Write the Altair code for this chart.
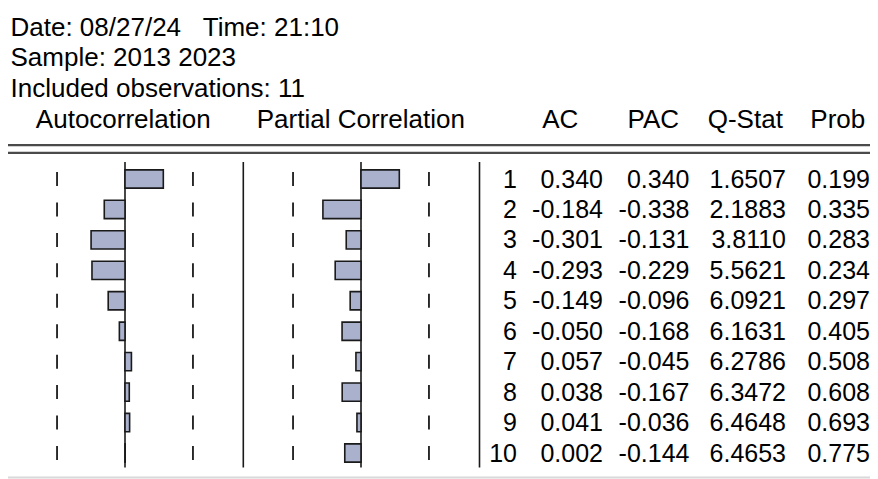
import altair as alt
import pandas as pd
import math

lags = [1, 2, 3, 4, 5, 6, 7, 8, 9, 10]
ac = [0.340, -0.184, -0.301, -0.293, -0.149, -0.050, 0.057, 0.038, 0.041, 0.002]
pac = [0.340, -0.338, -0.131, -0.229, -0.096, -0.168, -0.045, -0.167, -0.036, -0.144]
qstat = [1.6507, 2.1883, 3.8110, 5.5621, 6.0921, 6.1631, 6.2786, 6.3472, 6.4648, 6.4653]
prob = [0.199, 0.335, 0.283, 0.234, 0.297, 0.405, 0.508, 0.608, 0.693, 0.775]
n_obs = 11
header_lines = ["Date: 08/27/24\u00a0\u00a0\u00a0Time: 21:10", "Sample: 2013 2023", "Included observations: 11"]
col_headers = ["Autocorrelation", "Partial Correlation", "AC", "PAC", "Q-Stat", "Prob"]

FONT = "Liberation Sans"
FS = 25
FSH = 26
band = 2 / math.sqrt(n_obs)

df = pd.DataFrame({
    "lag": lags, "ac": ac, "pac": pac, "q": qstat, "prob": prob,
})
df["lo"] = df["lag"] - 0.3
df["hi"] = df["lag"] + 0.3
df["dlo"] = df["lag"] - 0.23
df["dhi"] = df["lag"] + 0.23
df["lag_s"] = df["lag"].astype(str)
df["ac_s"] = df["ac"].map(lambda v: f"{v:.3f}")
df["pac_s"] = df["pac"].map(lambda v: f"{v:.3f}")
df["q_s"] = df["q"].map(lambda v: f"{v:.4f}")
df["prob_s"] = df["prob"].map(lambda v: f"{v:.3f}")

base = alt.Chart(df)
yscale = alt.Scale(domain=[1, 10], range=[171, 445])
PX = 112.7
acf_scale = alt.Scale(domain=[-1, 1], range=[117 - PX, 117 + PX])
pacf_scale = alt.Scale(domain=[-1, 1], range=[353 - PX, 353 + PX])

BAR_FILL = "#a9b1cd"
INK = "#1a1a1a"


def panel(field, scale):
    bars = base.mark_rect(fill=BAR_FILL, stroke=INK, strokeWidth=1.6).encode(
        x=alt.X(f"{field}:Q", scale=scale, axis=None),
        x2=alt.datum(0),
        y=alt.Y("lo:Q", scale=yscale, axis=None),
        y2="hi:Q",
    )
    dash_l = base.mark_rule(color=INK, strokeWidth=1.8).encode(
        x=alt.X("b:Q", scale=scale, axis=None),
        y=alt.Y("dlo:Q", scale=yscale, axis=None),
        y2="dhi:Q",
    ).transform_calculate(b=f"{-band}")
    dash_r = base.mark_rule(color=INK, strokeWidth=1.8).encode(
        x=alt.X("b:Q", scale=scale, axis=None),
        y=alt.Y("dlo:Q", scale=yscale, axis=None),
        y2="dhi:Q",
    ).transform_calculate(b=f"{band}")
    center = alt.Chart(pd.DataFrame({"c": [0], "y0": [0.44], "y1": [10.48]})).mark_rule(
        color=INK, strokeWidth=1.6
    ).encode(
        x=alt.X("c:Q", scale=scale, axis=None),
        y=alt.Y("y0:Q", scale=yscale, axis=None),
        y2="y1:Q",
    )
    return alt.layer(center, bars, dash_l, dash_r)


acf_panel = panel("ac", acf_scale)
pacf_panel = panel("pac", pacf_scale)

sep_df = pd.DataFrame({"y0": [0.44], "y1": [10.48]})
seps = [
    alt.Chart(sep_df).mark_rule(color=INK, strokeWidth=1.6).encode(
        x=alt.value(xp), y=alt.Y("y0:Q", scale=yscale, axis=None), y2="y1:Q"
    )
    for xp in [235.3, 471.5]
]


def col(field, xp):
    return base.mark_text(
        font=FONT, fontSize=FS, align="right", baseline="alphabetic", dy=8.5, color="#000000"
    ).encode(x=alt.value(xp), y=alt.Y("lag:Q", scale=yscale, axis=None), text=f"{field}:N")


cols = [col("lag_s", 509), col("ac_s", 595), col("pac_s", 681.5), col("q_s", 778), col("prob_s", 862)]

hdr_df = pd.DataFrame({"t": header_lines, "yy": [28, 58.3, 89]})
hdr = alt.Chart(hdr_df).mark_text(
    font=FONT, fontSize=FSH, align="left", baseline="alphabetic", color="#000000"
).encode(x=alt.value(2.5), y=alt.Y("yy:Q", scale=None), text="t:N")

ch_df = pd.DataFrame({"t": col_headers, "xx": [115.3, 352.8, 552.3, 645.3, 737.3, 829.8]})
chdr = alt.Chart(ch_df).mark_text(
    font=FONT, fontSize=FSH, align="center", baseline="alphabetic", color="#000000"
).encode(x=alt.X("xx:Q", scale=None), y=alt.value(119.7), text="t:N")

line_df = pd.DataFrame({"yy": [137.2, 144.8]})
dbl = alt.Chart(line_df).mark_rule(color="#4a4a4a", strokeWidth=2.2).encode(
    y=alt.Y("yy:Q", scale=None), x=alt.value(0), x2=alt.value(862)
)
bottom = alt.Chart(pd.DataFrame({"yy": [469.5]})).mark_rule(color="#d8d8d8", strokeWidth=2).encode(
    y=alt.Y("yy:Q", scale=None), x=alt.value(0), x2=alt.value(862)
)

chart = alt.layer(
    acf_panel, pacf_panel, *seps, *cols, hdr, chdr, dbl, bottom
).resolve_scale(x="independent").properties(
    width=862, height=471, padding=0, autosize=alt.AutoSizeParams(type="none")
).configure_view(stroke=None)

chart.save("out.html", embed_options={"renderer": "svg", "actions": False})
